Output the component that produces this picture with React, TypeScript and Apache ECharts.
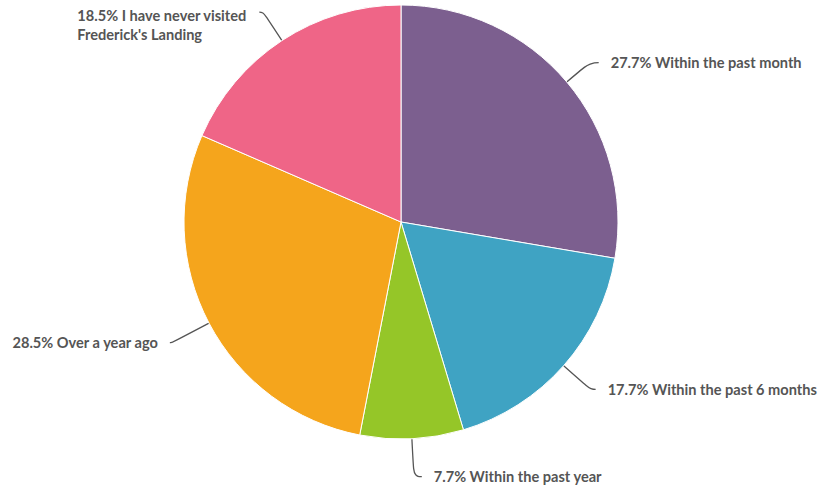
import React, { useEffect, useRef } from "react";
import * as echarts from "echarts";

const categories = [
  "Within the past month",
  "Within the past 6 months",
  "Within the past year",
  "Over a year ago",
  "I have never visited Frederick's Landing",
];
const values = [27.7, 17.7, 7.7, 28.5, 18.5];
const colors = ["#7c5f8f", "#3fa3c3", "#95c628", "#f5a51c", "#ef6587"];
const lineLen1 = [30, 36, 38, 42, 34];
const lineLen2 = [9, 5, 8, 2, 4];

export default function App() {
  const ref = useRef<HTMLDivElement>(null);
  useEffect(() => {
    if (!ref.current) return;
    const chart = echarts.init(ref.current, undefined, { renderer: "svg" });
    const data = categories.map((name, i) => {
      const item: any = {
        name,
        value: values[i],
        itemStyle: { color: colors[i] },
        labelLine: { length: lineLen1[i], length2: lineLen2[i] },
      };
      if (i === 4) {
        item.label = {
          formatter: "{a|18.5% I have never visited}\n{a|Frederick's Landing}",
          padding: [26, 0, 0, 0],
        };
      }
      return item;
    });
    chart.setOption({
      animation: false,
      series: [
        {
          type: "pie",
          center: [401, 222],
          radius: [0, 217],
          startAngle: 90,
          clockwise: true,
          avoidLabelOverlap: false,
          data,
          itemStyle: { borderColor: "#ffffff", borderWidth: 1 },
          label: {
            show: true,
            position: "outside",
            formatter: (p: any) => `${p.value.toFixed(1)}% ${p.name}`,
            fontFamily: "Lato",
            fontWeight: "bold",
            fontSize: 14.6,
            color: "#555555",
            distanceToLabelLine: 12,
            rich: {
              a: {
                width: 170,
                align: "left",
                fontFamily: "Lato",
                fontWeight: "bold",
                fontSize: 14.6,
                color: "#555555",
                lineHeight: 19,
              },
            },
          },
          labelLine: {
            show: true,
            smooth: 0.5,
            lineStyle: { color: "#555555", width: 1.3 },
          },
        },
      ],
    });
    return () => chart.dispose();
  }, []);
  return (
    <div
      ref={ref}
      style={{ position: "absolute", left: 0, top: 0, width: 820, height: 491 }}
    />
  );
}
